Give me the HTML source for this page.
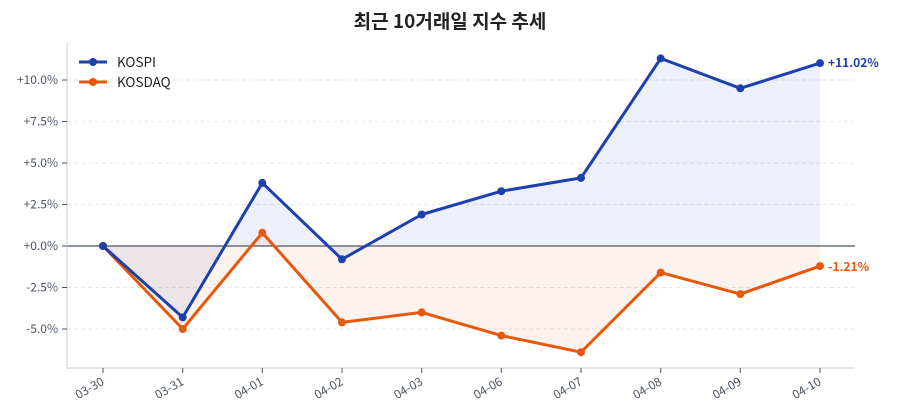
<!DOCTYPE html>
<html><head><meta charset="utf-8"><style>
body{margin:0;background:#fff;}
svg{display:block;font-family:"Noto Sans CJK KR","Liberation Sans",sans-serif;}
</style></head><body>
<svg width="900" height="420" viewBox="0 0 900 420">
<text x="450" y="28" text-anchor="middle" font-size="19" font-weight="bold" fill="#222">최근 10거래일 지수 추세</text>
<g stroke="#e5e7eb" stroke-dasharray="4,3" stroke-width="1">
<line x1="67" x2="855" y1="80" y2="80"/><line x1="67" x2="855" y1="121.5" y2="121.5"/>
<line x1="67" x2="855" y1="163" y2="163"/><line x1="67" x2="855" y1="204.5" y2="204.5"/>
<line x1="67" x2="855" y1="287.5" y2="287.5"/><line x1="67" x2="855" y1="329" y2="329"/>
</g>
<polygon fill="#1e3fae" fill-opacity="0.08" points="103,246 182.7,317.4 262.3,182.9 342,259.3 421.7,214.5 501.3,191.2 581,177.9 660.7,58.4 740.3,88.3 820,63.1 820,246"/>
<polygon fill="#e8580c" fill-opacity="0.07" points="103,246 182.7,329 262.3,232.7 342,322.4 421.7,312.4 501.3,335.6 581,352.2 660.7,272.6 740.3,294.1 820,266.1 820,246"/>
<line x1="67" x2="855" y1="246" y2="246" stroke="#4b5563" stroke-width="1.2"/>
<g stroke="#d1d5db" stroke-width="1.2" fill="none"><path d="M67,43 V368 H855"/></g>
<g stroke="#4b5563" stroke-width="1">
<line x1="62" x2="67" y1="80" y2="80"/><line x1="62" x2="67" y1="121.5" y2="121.5"/><line x1="62" x2="67" y1="163" y2="163"/><line x1="62" x2="67" y1="204.5" y2="204.5"/><line x1="62" x2="67" y1="246" y2="246"/><line x1="62" x2="67" y1="287.5" y2="287.5"/><line x1="62" x2="67" y1="329" y2="329"/>
<line x1="103" x2="103" y1="368" y2="373"/><line x1="182.7" x2="182.7" y1="368" y2="373"/><line x1="262.3" x2="262.3" y1="368" y2="373"/><line x1="342" x2="342" y1="368" y2="373"/><line x1="421.7" x2="421.7" y1="368" y2="373"/><line x1="501.3" x2="501.3" y1="368" y2="373"/><line x1="581" x2="581" y1="368" y2="373"/><line x1="660.7" x2="660.7" y1="368" y2="373"/><line x1="740.3" x2="740.3" y1="368" y2="373"/><line x1="820" x2="820" y1="368" y2="373"/>
</g>
<g font-size="12" fill="#4b5563" text-anchor="end">
<text x="58" y="84">+10.0%</text><text x="58" y="125.5">+7.5%</text><text x="58" y="167">+5.0%</text><text x="58" y="208.5">+2.5%</text><text x="58" y="250">+0.0%</text><text x="58" y="291.5">-2.5%</text><text x="58" y="333">-5.0%</text>
</g>
<g font-size="12" fill="#4b5563" text-anchor="end">
<text transform="translate(105,384) rotate(-30)">03-30</text>
<text transform="translate(184.7,384) rotate(-30)">03-31</text>
<text transform="translate(264.3,384) rotate(-30)">04-01</text>
<text transform="translate(344,384) rotate(-30)">04-02</text>
<text transform="translate(423.7,384) rotate(-30)">04-03</text>
<text transform="translate(503.3,384) rotate(-30)">04-06</text>
<text transform="translate(583,384) rotate(-30)">04-07</text>
<text transform="translate(662.7,384) rotate(-30)">04-08</text>
<text transform="translate(742.3,384) rotate(-30)">04-09</text>
<text transform="translate(822,384) rotate(-30)">04-10</text>
</g>
<polyline fill="none" stroke="#e8580c" stroke-width="3" stroke-linejoin="round" points="103,246 182.7,329 262.3,232.7 342,322.4 421.7,312.4 501.3,335.6 581,352.2 660.7,272.6 740.3,294.1 820,266.1"/>
<g fill="#e8580c"><circle cx="103" cy="246" r="4"/><circle cx="182.7" cy="329" r="4"/><circle cx="262.3" cy="232.7" r="4"/><circle cx="342" cy="322.4" r="4"/><circle cx="421.7" cy="312.4" r="4"/><circle cx="501.3" cy="335.6" r="4"/><circle cx="581" cy="352.2" r="4"/><circle cx="660.7" cy="272.6" r="4"/><circle cx="740.3" cy="294.1" r="4"/><circle cx="820" cy="266.1" r="4"/></g>
<polyline fill="none" stroke="#1e3fae" stroke-width="3" stroke-linejoin="round" points="103,246 182.7,317.4 262.3,182.9 342,259.3 421.7,214.5 501.3,191.2 581,177.9 660.7,58.4 740.3,88.3 820,63.1"/>
<g fill="#1e3fae"><circle cx="103" cy="246" r="4"/><circle cx="182.7" cy="317.4" r="4"/><circle cx="262.3" cy="182.9" r="4"/><circle cx="342" cy="259.3" r="4"/><circle cx="421.7" cy="214.5" r="4"/><circle cx="501.3" cy="191.2" r="4"/><circle cx="581" cy="177.9" r="4"/><circle cx="660.7" cy="58.4" r="4"/><circle cx="740.3" cy="88.3" r="4"/><circle cx="820" cy="63.1" r="4"/></g>
<text x="828" y="67" font-size="12" font-weight="bold" fill="#1e3fae">+11.02%</text>
<text x="828" y="271" font-size="12" font-weight="bold" fill="#e8580c">-1.21%</text>
<line x1="79" x2="107" y1="62" y2="62" stroke="#1e3fae" stroke-width="3"/><circle cx="93" cy="62" r="4" fill="#1e3fae"/>
<text x="117" y="67" font-size="13.5" fill="#222">KOSPI</text>
<line x1="79" x2="107" y1="82" y2="82" stroke="#e8580c" stroke-width="3"/><circle cx="93" cy="82" r="4" fill="#e8580c"/>
<text x="117" y="87" font-size="13.5" fill="#222">KOSDAQ</text>
</svg>
</body></html>
